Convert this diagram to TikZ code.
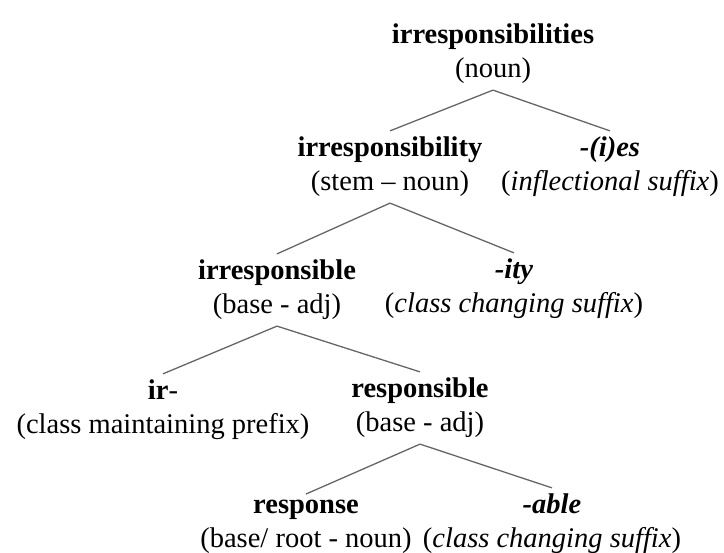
\documentclass[tikz,border=0pt]{standalone}
\usepackage{fontspec}
\setmainfont{Liberation Serif}
\usepackage{tikz}

\begin{document}
\begin{tikzpicture}[x=1pt, y=-1pt,
        every node/.style={align=center, inner sep=6pt, font=\fontsize{28.5}{34}\selectfont},
        branch/.style={draw=black!60, line width=1.3pt}]
        \useasboundingbox (0, 0) rectangle (724, 553);
        \draw (493, 54) node(0){\textbf{irresponsibilities}\\(noun)};
        \draw (390, 167) node(1){\textbf{irresponsibility}\\(stem -- noun)};
        \draw (610, 167) node(2){\textbf{\textit{-(i)es}}\\(\textit{inflectional suffix})};
        \draw[branch] (0.south) -- (1.north);
        \draw[branch] (0.south) -- (2.north);
        \draw (277, 290) node(3){\textbf{irresponsible}\\(base - adj)};
        \draw (514, 289) node(4){\textbf{\textit{-ity}}\\(\textit{class changing suffix})};
        \draw[branch] (1.south) -- (3.north);
        \draw[branch] (1.south) -- (4.north);
        \draw (163, 410) node(5){\textbf{ir}-\\(class maintaining prefix)};
        \draw (420, 408) node(6){\textbf{responsible}\\(base - adj)};
        \draw[branch] (3.south) -- (5.north);
        \draw[branch] (3.south) -- (6.north);
        \draw (306, 527) node(7){\textbf{response}\\(base/ root - noun)};
        \draw (552, 524) node(8){\textbf{\textit{-able}}\\(\textit{class changing suffix})};
        \draw[branch] (6.south) -- (7.north);
        \draw[branch] (6.south) -- (8.north);
\end{tikzpicture}
\end{document}
